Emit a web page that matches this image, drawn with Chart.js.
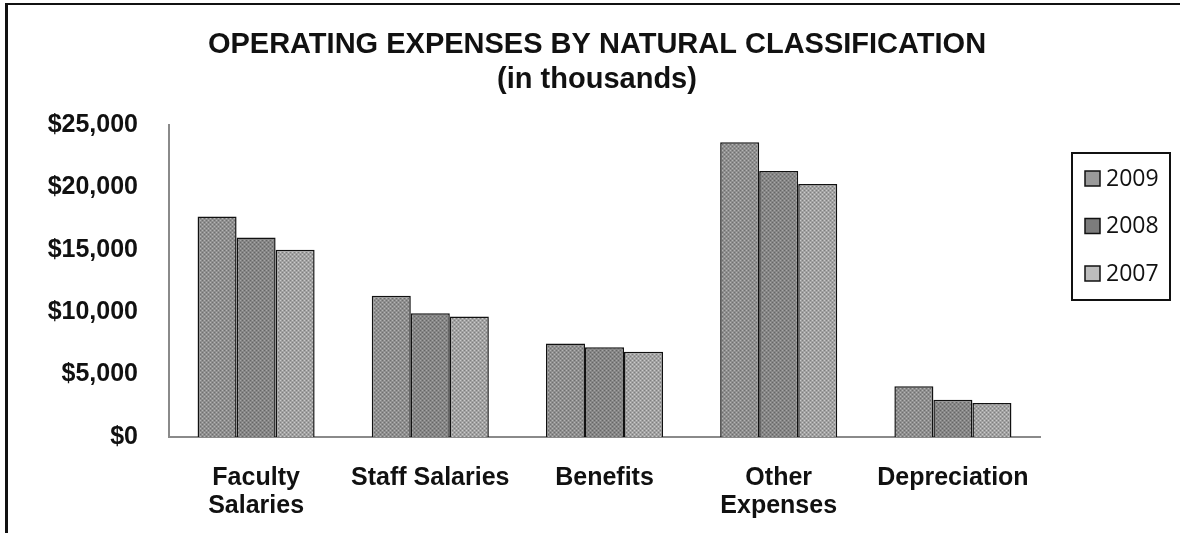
<!DOCTYPE html>
<html>
<head>
<meta charset="utf-8">
<script src="https://cdn.jsdelivr.net/npm/chart.js@4.4.1/dist/chart.umd.min.js"></script>
<style>
    body { margin: 0; background: #fff; }
    #wrap { position: relative; width: 1180px; height: 533px; overflow: hidden; }
    #frame { position: absolute; left: 5px; top: 3px; width: 1200px; height: 600px;
             border-top: 2px solid #111; border-left: 3px solid #111; }
    canvas { position: absolute; left: 0; top: 0; }
</style>
</head>
<body>
<div id="wrap">
    <div id="frame"></div>
    <canvas id="expChart" width="1180" height="533"></canvas>
</div>
<script>
// Daten (in Tausend $)
const categories = [['Faculty', 'Salaries'], 'Staff Salaries', 'Benefits', ['Other', 'Expenses'], 'Depreciation'];
const years = ['2009', '2008', '2007'];
const exp2009 = [17650, 11300, 7480, 23600, 4060];
const exp2008 = [15970, 9900, 7180, 21300, 2980];
const exp2007 = [15000, 9650, 6830, 20250, 2720];
const yTicks = [0, 5000, 10000, 15000, 20000, 25000];

// kleine Graumuster wie im Scan
function makePattern(base, light, dark) {
    const c = document.createElement('canvas');
    c.width = 4; c.height = 4;
    const g = c.getContext('2d');
    g.fillStyle = base; g.fillRect(0, 0, 4, 4);
    g.fillStyle = light; g.fillRect(0, 0, 1, 1); g.fillRect(2, 2, 1, 1);
    g.fillStyle = dark; g.fillRect(2, 0, 1, 1); g.fillRect(0, 2, 1, 1);
    return document.getElementById('expChart').getContext('2d').createPattern(c, 'repeat');
}

const fills = [
    makePattern('#8f8f8f', '#b4b4b4', '#6f6f6f'),
    makePattern('#868686', '#a6a6a6', '#666666'),
    makePattern('#a2a2a2', '#cacaca', '#7e7e7e')
];
const swatchFills = ['#9a9a9a', '#7c7c7c', '#bdbdbd'];

// Legende mit Rahmen (rechts)
const boxLegend = {
    id: 'boxLegend',
    afterDraw(chart) {
        const ctx = chart.ctx;
        const x0 = chart.chartArea.right + 32;
        const y0 = 153;
        ctx.save();
        ctx.strokeStyle = '#111';
        ctx.lineWidth = 2;
        ctx.strokeRect(x0, y0, 98, 147);
        ctx.font = '23px "Open Sans"';
        ctx.textBaseline = 'middle';
        chart.data.datasets.forEach((ds, i) => {
            const cy = y0 + 26 + i * 47.5;
            ctx.fillStyle = swatchFills[i];
            ctx.fillRect(x0 + 13, cy - 8, 15, 15);
            ctx.lineWidth = 1.5;
            ctx.strokeRect(x0 + 13, cy - 8, 15, 15);
            ctx.fillStyle = '#111';
            ctx.fillText(ds.label, x0 + 34, cy);
        });
        ctx.restore();
    }
};

const ctx = document.getElementById('expChart').getContext('2d');
new Chart(ctx, {
    type: 'bar',
    data: {
        labels: categories,
        datasets: [
            { label: years[0], data: exp2009, backgroundColor: fills[0], borderColor: '#111', borderWidth: 1.5 },
            { label: years[1], data: exp2008, backgroundColor: fills[1], borderColor: '#111', borderWidth: 1.5 },
            { label: years[2], data: exp2007, backgroundColor: fills[2], borderColor: '#111', borderWidth: 1.5 }
        ]
    },
    options: {
        responsive: false,
        animation: false,
        layout: { padding: { left: 14, right: 0, top: 0, bottom: 0 } },
        categoryPercentage: 0.672,
        barPercentage: 1.0,
        plugins: {
            legend: { display: false },
            tooltip: { enabled: false },
            title: {
                display: true,
                text: ['OPERATING EXPENSES BY NATURAL CLASSIFICATION', '(in thousands)'],
                color: '#111',
                font: { family: '"Liberation Sans", Arial, sans-serif', size: 29, weight: 'bold', lineHeight: 1.22 },
                padding: { top: 27, bottom: 27 }
            }
        },
        scales: {
            x: {
                grid: { display: false, drawTicks: false },
                border: { color: '#8a8a8a', width: 2 },
                ticks: {
                    color: '#111',
                    padding: 27,
                    maxRotation: 0,
                    autoSkip: false,
                    font: { family: '"Liberation Sans", Arial, sans-serif', size: 25, weight: 'bold', lineHeight: 1.12 }
                },
                afterFit: (s) => { s.height = 96; }
            },
            y: {
                min: 0,
                max: 25000,
                grid: { display: false, drawTicks: false },
                border: { color: '#8a8a8a', width: 2 },
                afterBuildTicks: (s) => { s.ticks = yTicks.map(v => ({ value: v })); },
                ticks: {
                    color: '#111',
                    padding: 31,
                    font: { family: '"Liberation Sans", Arial, sans-serif', size: 25, weight: 'bold' },
                    callback: (v) => '$' + v.toLocaleString('en-US')
                },
                afterFit: (s) => { s.width = 155; }
            },
            // leerer Platz rechts fuer die Legende
            yRight: {
                position: 'right',
                display: true,
                grid: { display: false, drawTicks: false },
                border: { display: false },
                ticks: { display: false },
                afterFit: (s) => { s.width = 140; }
            }
        }
    },
    plugins: [boxLegend]
});
</script>
</body>
</html>
